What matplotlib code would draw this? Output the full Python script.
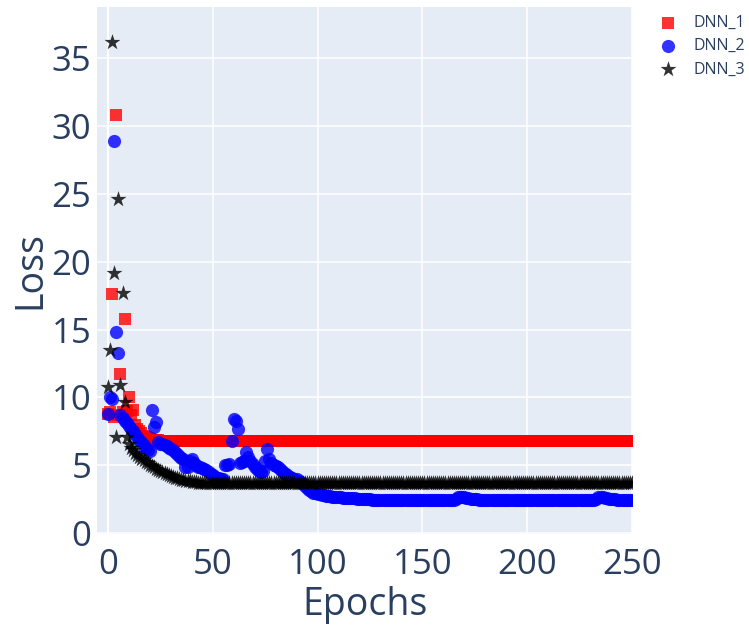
import matplotlib
matplotlib.use("Agg")
import matplotlib.pyplot as plt
import numpy as np

plt.rcParams['font.family'] = ['Open Sans', 'DejaVu Sans']

TXT = '#2a3f5f'

# loss per epoch
dnn_1 = [
    8.8, 8.9, 17.6, 8.6, 30.8, 8.7, 11.7, 8.9, 15.8, 9.0,
    10.0, 8.7, 9.1, 8.0, 7.7, 7.5, 7.35, 7.2, 7.1, 7.0,
    6.95, 6.9, 6.88, 6.86, 6.84, 6.82, 6.8, 6.79, 6.78, 6.78,
    6.78, 6.78, 6.78, 6.78, 6.78, 6.78, 6.78, 6.78, 6.78, 6.78,
    6.78, 6.78, 6.78, 6.78, 6.78, 6.78, 6.78, 6.78, 6.78, 6.78,
    6.78, 6.78, 6.78, 6.78, 6.78, 6.78, 6.78, 6.78, 6.78, 6.78,
    6.78, 6.78, 6.78, 6.78, 6.78, 6.78, 6.78, 6.78, 6.78, 6.78,
    6.78, 6.78, 6.78, 6.78, 6.78, 6.78, 6.78, 6.78, 6.78, 6.78,
    6.78, 6.78, 6.78, 6.78, 6.78, 6.78, 6.78, 6.78, 6.78, 6.78,
    6.78, 6.78, 6.78, 6.78, 6.78, 6.78, 6.78, 6.78, 6.78, 6.78,
    6.78, 6.78, 6.78, 6.78, 6.78, 6.78, 6.78, 6.78, 6.78, 6.78,
    6.78, 6.78, 6.78, 6.78, 6.78, 6.78, 6.78, 6.78, 6.78, 6.78,
    6.78, 6.78, 6.78, 6.78, 6.78, 6.78, 6.78, 6.78, 6.78, 6.78,
    6.78, 6.78, 6.78, 6.78, 6.78, 6.78, 6.78, 6.78, 6.78, 6.78,
    6.78, 6.78, 6.78, 6.78, 6.78, 6.78, 6.78, 6.78, 6.78, 6.78,
    6.78, 6.78, 6.78, 6.78, 6.78, 6.78, 6.78, 6.78, 6.78, 6.78,
    6.78, 6.78, 6.78, 6.78, 6.78, 6.78, 6.78, 6.78, 6.78, 6.78,
    6.78, 6.78, 6.78, 6.78, 6.78, 6.78, 6.78, 6.78, 6.78, 6.78,
    6.78, 6.78, 6.78, 6.78, 6.78, 6.78, 6.78, 6.78, 6.78, 6.78,
    6.78, 6.78, 6.78, 6.78, 6.78, 6.78, 6.78, 6.78, 6.78, 6.78,
    6.78, 6.78, 6.78, 6.78, 6.78, 6.78, 6.78, 6.78, 6.78, 6.78,
    6.78, 6.78, 6.78, 6.78, 6.78, 6.78, 6.78, 6.78, 6.78, 6.78,
    6.78, 6.78, 6.78, 6.78, 6.78, 6.78, 6.78, 6.78, 6.78, 6.78,
    6.78, 6.78, 6.78, 6.78, 6.78, 6.78, 6.78, 6.78, 6.78, 6.78,
    6.78, 6.78, 6.78, 6.78, 6.78, 6.78, 6.78, 6.78, 6.78, 6.78,
    6.78,
]

dnn_2 = [
    8.8, 10.0, 9.9, 28.85, 14.8, 13.3, 8.7, 8.5, 8.3, 8.1,
    7.9, 7.7, 7.5, 7.3, 7.1, 6.9, 6.7, 6.5, 6.3, 6.15,
    6.05, 9.07, 7.8, 8.2, 6.75, 6.6, 6.55, 6.5, 6.4, 6.3,
    6.2, 6.1, 6.0, 5.85, 5.7, 5.55, 5.45, 4.85, 4.9, 5.3,
    5.45, 5.2, 5.0, 4.9, 4.85, 4.8, 4.7, 4.65, 4.5, 4.4,
    4.3, 4.15, 4.1, 4.05, 4.0, 3.97, 5.0, 5.0, 5.1, 6.8,
    8.45, 8.3, 7.65, 5.2, 5.25, 5.3, 6.0, 5.6, 5.3, 5.1,
    4.85, 4.7, 4.6, 4.5, 4.6, 5.3, 6.2, 5.45, 5.2, 5.05,
    4.95, 4.85, 4.7, 4.6, 4.45, 4.35, 4.25, 4.15, 4.08, 4.02,
    3.97, 3.85, 3.75, 3.6, 3.48, 3.35, 3.2, 3.1, 3.0, 2.95,
    2.9, 2.86, 2.82, 2.79, 2.76, 2.74, 2.72, 2.7, 2.68, 2.66,
    2.65, 2.64, 2.63, 2.62, 2.61, 2.6, 2.59, 2.58, 2.57, 2.56,
    2.55, 2.54, 2.53, 2.52, 2.51, 2.5, 2.49, 2.48, 2.47, 2.46,
    2.45, 2.45, 2.45, 2.45, 2.45, 2.45, 2.45, 2.45, 2.45, 2.45,
    2.45, 2.45, 2.45, 2.45, 2.45, 2.45, 2.45, 2.45, 2.45, 2.45,
    2.45, 2.45, 2.45, 2.45, 2.45, 2.45, 2.45, 2.45, 2.45, 2.45,
    2.45, 2.45, 2.45, 2.45, 2.45, 2.45, 2.5, 2.65, 2.7, 2.68,
    2.64, 2.6, 2.57, 2.55, 2.53, 2.51, 2.5, 2.49, 2.48, 2.47,
    2.46, 2.45, 2.45, 2.45, 2.45, 2.45, 2.45, 2.45, 2.45, 2.45,
    2.45, 2.45, 2.45, 2.45, 2.45, 2.45, 2.45, 2.45, 2.45, 2.45,
    2.45, 2.45, 2.45, 2.45, 2.45, 2.45, 2.45, 2.45, 2.45, 2.45,
    2.44, 2.44, 2.44, 2.44, 2.44, 2.44, 2.44, 2.44, 2.44, 2.44,
    2.44, 2.44, 2.44, 2.44, 2.44, 2.44, 2.44, 2.44, 2.44, 2.44,
    2.44, 2.44, 2.45, 2.55, 2.68, 2.7, 2.66, 2.62, 2.58, 2.55,
    2.53, 2.51, 2.5, 2.49, 2.48, 2.48, 2.47, 2.47, 2.47, 2.47,
    2.47,
]

dnn_3 = [
    10.8, 13.5, 36.2, 19.2, 7.1, 24.6, 10.9, 17.7, 9.7, 7.1,
    6.6, 6.3, 6.1, 5.95, 5.8, 5.65, 5.5, 5.38, 5.25, 5.15,
    5.05, 4.95, 4.85, 4.75, 4.65, 4.57, 4.5, 4.42, 4.35, 4.28,
    4.22, 4.16, 4.1, 4.05, 4.0, 3.96, 3.92, 3.88, 3.85, 3.82,
    3.8, 3.78, 3.76, 3.74, 3.72, 3.71, 3.7, 3.69, 3.68, 3.68,
    3.68, 3.68, 3.68, 3.68, 3.68, 3.68, 3.68, 3.68, 3.68, 3.68,
    3.68, 3.68, 3.68, 3.68, 3.68, 3.68, 3.68, 3.68, 3.68, 3.68,
    3.68, 3.68, 3.68, 3.68, 3.68, 3.68, 3.68, 3.68, 3.68, 3.68,
    3.68, 3.68, 3.68, 3.68, 3.68, 3.68, 3.68, 3.68, 3.68, 3.68,
    3.68, 3.68, 3.68, 3.68, 3.68, 3.68, 3.68, 3.68, 3.68, 3.68,
    3.68, 3.68, 3.68, 3.68, 3.68, 3.68, 3.68, 3.68, 3.68, 3.68,
    3.68, 3.68, 3.68, 3.68, 3.68, 3.68, 3.68, 3.68, 3.68, 3.68,
    3.68, 3.68, 3.68, 3.68, 3.68, 3.68, 3.68, 3.68, 3.68, 3.68,
    3.68, 3.68, 3.68, 3.68, 3.68, 3.68, 3.68, 3.68, 3.68, 3.68,
    3.68, 3.68, 3.68, 3.68, 3.68, 3.68, 3.68, 3.68, 3.68, 3.68,
    3.68, 3.68, 3.68, 3.68, 3.68, 3.68, 3.68, 3.68, 3.68, 3.68,
    3.68, 3.68, 3.68, 3.68, 3.68, 3.68, 3.68, 3.68, 3.7, 3.72,
    3.72, 3.7, 3.68, 3.68, 3.68, 3.68, 3.68, 3.68, 3.68, 3.68,
    3.68, 3.68, 3.68, 3.68, 3.68, 3.68, 3.68, 3.68, 3.68, 3.68,
    3.68, 3.68, 3.68, 3.68, 3.68, 3.68, 3.68, 3.68, 3.68, 3.68,
    3.68, 3.68, 3.68, 3.68, 3.68, 3.68, 3.68, 3.68, 3.68, 3.68,
    3.68, 3.68, 3.68, 3.68, 3.68, 3.68, 3.68, 3.68, 3.68, 3.68,
    3.68, 3.68, 3.68, 3.68, 3.68, 3.68, 3.68, 3.68, 3.68, 3.68,
    3.68, 3.68, 3.68, 3.68, 3.68, 3.68, 3.68, 3.68, 3.68, 3.68,
    3.68, 3.68, 3.68, 3.68, 3.68, 3.68, 3.68, 3.68, 3.68, 3.68,
    3.68,
]

x_ticks = [0, 50, 100, 150, 200, 250]
y_ticks = [0, 5, 10, 15, 20, 25, 30, 35]

W, H = 749, 627
fig = plt.figure(figsize=(W / 100, H / 100), dpi=100)
ax = fig.add_axes([97 / W, 1 - 534 / H, (632 - 97) / W, (534 - 7) / H])
ax.set_facecolor('#E5ECF6')
for s in ax.spines.values():
    s.set_visible(False)

ax.scatter(np.arange(len(dnn_1)), dnn_1, marker='s', s=76, color='red',
           alpha=0.8, linewidths=0, label='DNN_1', zorder=3)
ax.scatter(np.arange(len(dnn_2)), dnn_2, marker='o', s=90, color='blue',
           alpha=0.8, linewidths=0, label='DNN_2', zorder=3)
ax.scatter(np.arange(len(dnn_3)), dnn_3, marker='*', s=145, color='black',
           alpha=0.8, linewidths=0, label='DNN_3', zorder=3)

ax.set_xlim(-5.2, 250)
ax.set_ylim(-0.05, 38.75)
ax.set_xticks(x_ticks)
ax.set_yticks(y_ticks)
ax.grid(True, color='white', linewidth=1.1, zorder=0)
ax.axvline(0, color='white', linewidth=1.6, zorder=1)
ax.set_axisbelow(True)
ax.tick_params(length=0, labelsize=25, labelcolor=TXT)
ax.tick_params(axis='x', pad=10)
ax.tick_params(axis='y', pad=4)

fig.text(365 / W, 1 - 605 / H, 'Epochs', ha='center', va='center',
         fontsize=27, color=TXT)
fig.text(30 / W, 1 - 270 / H, 'Loss', ha='center', va='center',
         rotation=90, fontsize=27, color=TXT)

leg = ax.legend(loc='upper left', bbox_to_anchor=(657 / W, 1 - 15 / H),
                bbox_transform=fig.transFigure, frameon=False, fontsize=11.5,
                borderpad=0, borderaxespad=0, handlelength=1.4,
                handletextpad=0.9, labelspacing=0.45, scatterpoints=1)
for t in leg.get_texts():
    t.set_color(TXT)

fig.savefig('out.png', dpi=100)
